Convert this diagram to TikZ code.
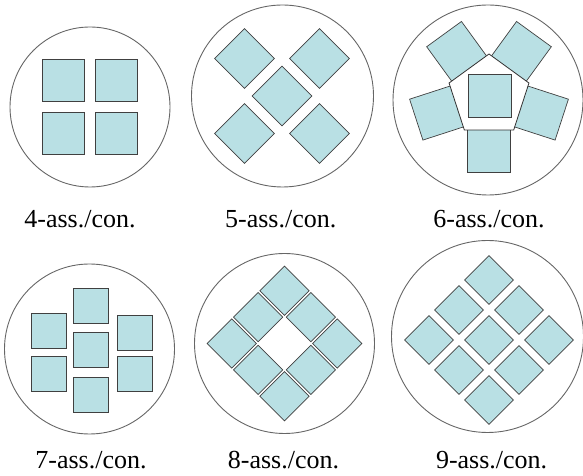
\documentclass[tikz,border=0pt]{standalone}
\usepackage{fontspec}
\setmainfont{Liberation Serif}
\definecolor{cellblue}{RGB}{185,224,228}

\begin{document}
\begin{tikzpicture}[
        x=1pt, y=1pt,
        disk/.style={circle, draw=black!60, line width=0.9pt, inner sep=0pt, minimum size=#1},
        cell/.style={rectangle, draw=black!75, fill=cellblue, line width=0.7pt, inner sep=0pt, minimum size=#1},
        cell/.default=42pt,
        pentagon/.style={draw=black!80, fill=white, line width=0.8pt},
        caption/.style={anchor=base, font=\fontsize{26}{30}\selectfont}
    ]
    \useasboundingbox (0,0) rectangle (583,476);

    % Disk 4
    \node[disk=160pt] (disk_four) at (90,369) {};
    \node[cell] (four_ul) at (63.25,395.75) {};
    \node[cell] (four_ur) at (116.75,395.75) {};
    \node[cell] (four_ll) at (63.25,342.25) {};
    \node[cell] (four_lr) at (116.75,342.25) {};

    % Disk 5 (diamonds)
    \node[disk=182pt] (disk_five) at (282.5,380) {};
    \node[cell=42.4pt, rotate=45] (five_c) at (282,380) {};
    \node[cell=42.4pt, rotate=45] (five_ul) at (244.5,417.5) {};
    \node[cell=42.4pt, rotate=45] (five_ur) at (319.5,417.5) {};
    \node[cell=42.4pt, rotate=45] (five_ll) at (244.5,342.5) {};
    \node[cell=42.4pt, rotate=45] (five_lr) at (319.5,342.5) {};

    % Disk 6 (pentagon)
    \node[disk=190pt] (disk_six) at (488,376) {};
    \node[cell=43pt] (six_b) at (489,325) {};
    \node[cell=43pt, rotate=-18] (six_r) at (541.3,363) {};
    \node[cell=43pt, rotate=-36] (six_ur) at (521.3,424.5) {};
    \node[cell=43pt, rotate=36] (six_ul) at (456.7,424.5) {};
    \node[cell=43pt, rotate=18] (six_l) at (436.7,363) {};
    \draw[pentagon, shift={(489,380)}] (90:42pt) -- (162:42pt) -- (234:42pt) -- (306:42pt) -- (18:42pt) -- cycle;
    \node[cell=43pt] (six_c) at (490,380) {};

    % Disk 7
    \node[disk=170pt] (disk_seven) at (89.5,127) {};
    \node[cell=35pt] (seven_l1) at (48.5,145.5) {};
    \node[cell=35pt] (seven_l2) at (48.5,102) {};
    \node[cell=35pt] (seven_m1) at (91,170) {};
    \node[cell=35pt] (seven_m2) at (91,126.5) {};
    \node[cell=35pt] (seven_m3) at (91,81.5) {};
    \node[cell=35pt] (seven_r1) at (134.5,143) {};
    \node[cell=35pt] (seven_r2) at (134.5,102) {};

    % Disk 8 (ring of diamonds)
    \node[disk=180pt] (disk_eight) at (284.5,132.5) {};
    \node[cell=34.8pt, rotate=45] (eight_t) at (284.5,185.3) {};
    \node[cell=34.8pt, rotate=45] (eight_tl) at (258.1,158.9) {};
    \node[cell=34.8pt, rotate=45] (eight_tr) at (310.9,158.9) {};
    \node[cell=34.8pt, rotate=45] (eight_l) at (231.7,132.5) {};
    \node[cell=34.8pt, rotate=45] (eight_r) at (337.3,132.5) {};
    \node[cell=34.8pt, rotate=45] (eight_bl) at (258.1,106.1) {};
    \node[cell=34.8pt, rotate=45] (eight_br) at (310.9,106.1) {};
    \node[cell=34.8pt, rotate=45] (eight_b) at (284.5,79.7) {};

    % Disk 9 (full grid of diamonds)
    \node[disk=192pt] (disk_nine) at (487.5,139.5) {};
    \node[cell=34.6pt, rotate=45] (nine_t) at (489,196) {};
    \node[cell=34.6pt, rotate=45] (nine_tl) at (459,166) {};
    \node[cell=34.6pt, rotate=45] (nine_tr) at (519,166) {};
    \node[cell=34.6pt, rotate=45] (nine_l) at (429,136) {};
    \node[cell=34.6pt, rotate=45] (nine_c) at (489,136) {};
    \node[cell=34.6pt, rotate=45] (nine_r) at (549,136) {};
    \node[cell=34.6pt, rotate=45] (nine_bl) at (459,106) {};
    \node[cell=34.6pt, rotate=45] (nine_br) at (519,106) {};
    \node[cell=34.6pt, rotate=45] (nine_b) at (489,76) {};

    % Captions
    \node[caption] (cap_four) at (80,248) {4-ass./con.};
    \node[caption] (cap_five) at (280.7,248) {5-ass./con.};
    \node[caption] (cap_six) at (489,248) {6-ass./con.};
    \node[caption] (cap_seven) at (91,7) {7-ass./con.};
    \node[caption] (cap_eight) at (283.5,7) {8-ass./con.};
    \node[caption] (cap_nine) at (491.6,7) {9-ass./con.};

\end{tikzpicture}
\end{document}
